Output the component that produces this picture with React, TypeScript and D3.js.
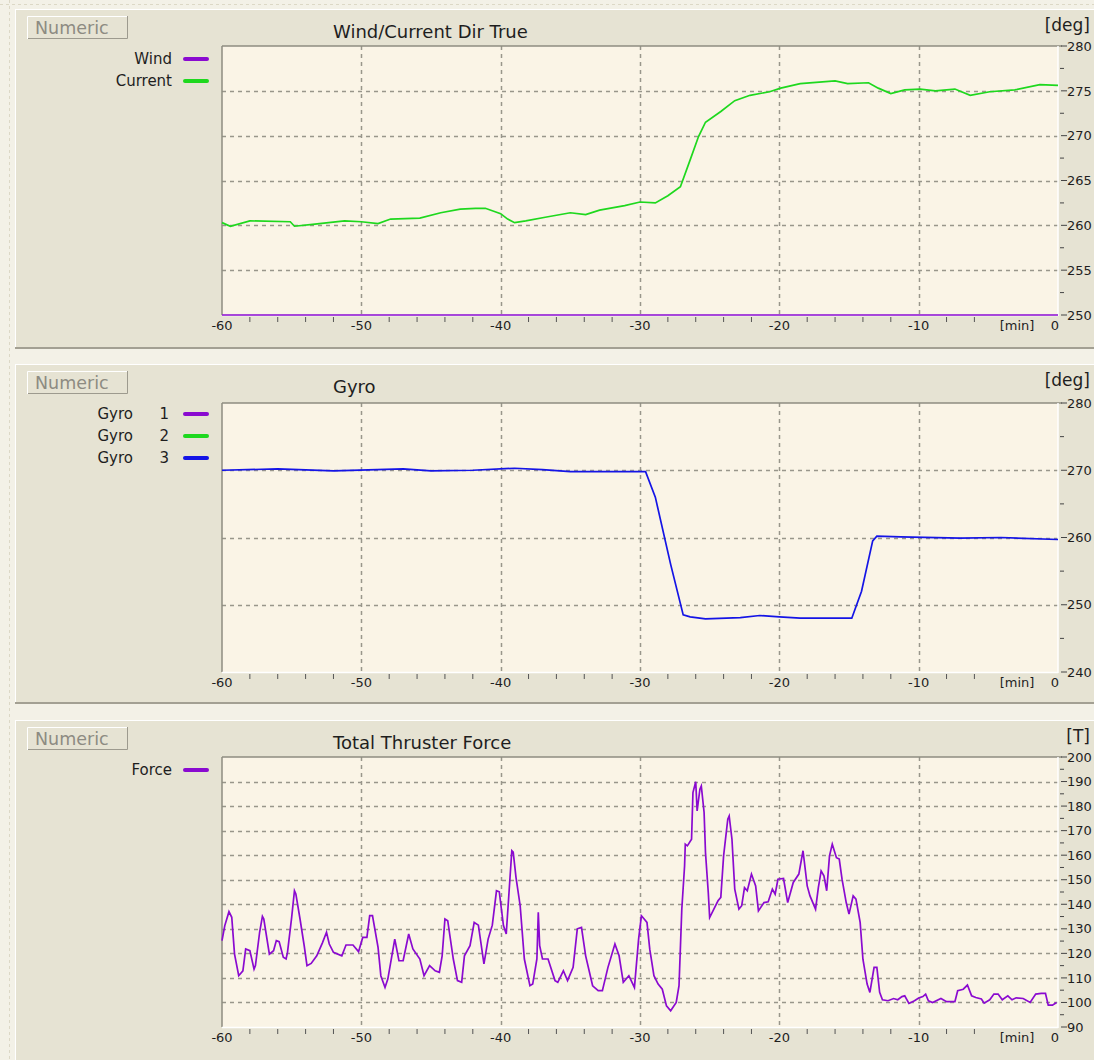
import React from "react";
import * as d3 from "d3";

// ---- data (minutes, value) ----
const windData: [number, number][] = [
  [-60, 250],
  [0, 250],
];

const currentData: [number, number][] = [
  [-60, 260.3], [-59.4, 259.9], [-58.0, 260.5], [-55.1, 260.4], [-54.8, 259.9],
  [-53.5, 260.1], [-51.2, 260.5], [-50.0, 260.4], [-48.8, 260.2], [-47.9, 260.7],
  [-45.8, 260.8], [-44.3, 261.4], [-42.9, 261.8], [-41.8, 261.9], [-41.1, 261.9],
  [-40.0, 261.3], [-39.5, 260.7], [-39.0, 260.3], [-38.2, 260.5], [-36.8, 260.9],
  [-35.0, 261.4], [-33.9, 261.2], [-32.9, 261.7], [-31.1, 262.2], [-30.0, 262.6],
  [-28.9, 262.5], [-28.0, 263.3], [-27.1, 264.3], [-26.4, 267.3], [-25.8, 269.9],
  [-25.3, 271.5], [-24.2, 272.7], [-23.2, 273.9], [-22.1, 274.5], [-20.7, 274.9],
  [-19.9, 275.3], [-18.5, 275.8], [-16.0, 276.1], [-15.1, 275.8], [-13.6, 275.9],
  [-12.9, 275.3], [-12.0, 274.7], [-11.0, 275.1], [-9.9, 275.2], [-8.8, 275.0],
  [-7.4, 275.2], [-6.3, 274.5], [-4.9, 274.9], [-3.1, 275.1], [-1.3, 275.7],
  [0, 275.6],
];

const gyro3Data: [number, number][] = [
  [-60, 270.0], [-56, 270.2], [-52, 269.9], [-47, 270.2], [-45, 269.9],
  [-42, 270.0], [-39, 270.3], [-37, 270.1], [-35, 269.8], [-29.6, 269.8],
  [-28.9, 266], [-27.8, 256], [-26.9, 248.5], [-26.4, 248.2], [-25.3, 247.9],
  [-22.8, 248.1], [-21.4, 248.4], [-20.0, 248.2], [-18.5, 248.0], [-14.8, 248.0],
  [-14.1, 252], [-13.3, 259.5], [-13.0, 260.2], [-11.3, 260.1], [-7.0, 259.9],
  [-4.1, 260.0], [0, 259.7],
];

const forceData: [number, number][] = [
  [-60, 125.2], [-59.8, 131.3], [-59.5, 137], [-59.3, 134.7], [-59.1, 119.7],
  [-58.8, 110.9], [-58.5, 112.9], [-58.3, 121.8], [-58.0, 121.1], [-57.7, 113.6],
  [-57.6, 115], [-57.3, 128.6], [-57.1, 135.1], [-57.0, 134], [-56.6, 119.7],
  [-56.3, 121.1], [-56.1, 125.2], [-55.9, 124.8], [-55.6, 118.4], [-55.4, 117.7],
  [-55.3, 120.4], [-55.0, 134.7], [-54.8, 145.5], [-54.7, 144.2], [-54.4, 134],
  [-54.1, 123.1], [-53.9, 115], [-53.6, 115.9], [-53.2, 119], [-52.8, 124.2],
  [-52.5, 128.6], [-52.3, 123.8], [-52.0, 120.4], [-51.4, 119], [-51.1, 123.4],
  [-50.6, 123.4], [-50.2, 120.7], [-49.9, 126.5], [-49.6, 126.5], [-49.4, 135.4],
  [-49.2, 135.4], [-48.8, 122.4], [-48.6, 110.9], [-48.3, 106.1], [-48.1, 109.5],
  [-47.6, 125.8], [-47.3, 117], [-47.0, 117], [-46.6, 127.9], [-46.3, 121.8],
  [-45.8, 117.7], [-45.5, 110.9], [-45.1, 115], [-44.7, 112.9], [-44.4, 112.3],
  [-44.2, 119], [-44.0, 134], [-43.8, 133.3], [-43.4, 117.7], [-43.1, 108.9],
  [-42.8, 108.2], [-42.6, 119], [-42.2, 123.1], [-41.9, 132.6], [-41.6, 131.5],
  [-41.2, 115.7], [-40.9, 125.8], [-40.6, 131.5], [-40.3, 145.5], [-40.1, 145.1],
  [-39.8, 131.3], [-39.6, 127.9], [-39.4, 144.9], [-39.2, 161.8], [-39.1, 161.2],
  [-38.9, 151], [-38.6, 139.4], [-38.3, 117.7], [-37.9, 106.8], [-37.7, 107.5],
  [-37.4, 117.7], [-37.3, 136.7], [-37.2, 123.1], [-37.0, 117.7], [-36.6, 117.7],
  [-36.1, 108.9], [-35.9, 108.2], [-35.5, 112.9], [-35.2, 108.9], [-34.8, 114.3],
  [-34.5, 130], [-34.2, 130.6], [-33.9, 119], [-33.4, 106.8], [-33.0, 104.8],
  [-32.7, 104.8], [-32.3, 114.3], [-31.8, 123.8], [-31.5, 119], [-31.2, 108.2],
  [-30.8, 110.9], [-30.4, 106.1], [-30.1, 125.8], [-29.9, 135.3], [-29.7, 134],
  [-29.5, 132.6], [-29.3, 121.7], [-29.0, 110.9], [-28.7, 107.5], [-28.4, 105.4],
  [-28.1, 98.6], [-27.8, 96.6], [-27.4, 100], [-27.2, 106.8], [-27.0, 138],
  [-26.8, 155.7], [-26.75, 164.5], [-26.6, 163.8], [-26.3, 166.5], [-26.2, 185.5],
  [-26.0, 189.9], [-25.9, 178], [-25.7, 186.9], [-25.6, 188.2], [-25.4, 177.4],
  [-25.3, 161.1], [-25.1, 144.8], [-25.0, 134.6], [-24.7, 138], [-24.4, 141.4],
  [-24.2, 142.8], [-24.0, 159.7], [-23.7, 174.7], [-23.6, 176], [-23.4, 166.5],
  [-23.2, 146.2], [-22.9, 138], [-22.7, 139.4], [-22.5, 146.8], [-22.3, 145.5],
  [-22.0, 152.3], [-21.7, 147.5], [-21.5, 137.3], [-21.1, 140.7], [-20.8, 141],
  [-20.5, 146.2], [-20.3, 144.1], [-20.1, 150.2], [-19.7, 150.5], [-19.4, 140.7],
  [-19.0, 148.9], [-18.6, 152.3], [-18.3, 161.8], [-18.0, 147.5], [-17.8, 143.4],
  [-17.4, 138], [-17.2, 146.8], [-17.0, 153.6], [-16.8, 151.6], [-16.6, 145.5],
  [-16.4, 159.7], [-16.2, 164.5], [-15.9, 159], [-15.7, 158.4], [-15.5, 150.2],
  [-15.2, 140.7], [-15.0, 136], [-14.7, 143.4], [-14.5, 142.1], [-14.2, 132.6],
  [-14.0, 117.6], [-13.7, 107.5], [-13.5, 104.1], [-13.2, 114.3], [-13.0, 114.3],
  [-12.8, 104.1], [-12.6, 101.1], [-12.2, 100.7], [-11.8, 101.6], [-11.5, 101.1],
  [-11.2, 102.4], [-11.0, 102.7], [-10.7, 99.6], [-10.3, 100.7], [-10.0, 101.8],
  [-9.7, 102.4], [-9.5, 103.4], [-9.3, 100.7], [-9.0, 100], [-8.4, 101.6],
  [-8.0, 100.3], [-7.4, 100.3], [-7.2, 104.8], [-6.8, 105.4], [-6.5, 107.1],
  [-6.2, 102.7], [-5.9, 102], [-5.5, 101.4], [-5.3, 99.7], [-4.9, 101.1],
  [-4.6, 103.4], [-4.3, 103.4], [-4.0, 101.1], [-3.6, 102.7], [-3.3, 101.1],
  [-3.0, 101.9], [-2.5, 101.6], [-2.0, 100], [-1.6, 103.4], [-1.2, 103.7],
  [-0.9, 103.7], [-0.7, 98.9], [-0.4, 98.9], [-0.1, 100],
];

// x axis
const xMajor = [-60, -50, -40, -30, -20, -10];
const xLabels = ["-60", "-50", "-40", "-30", "-20", "-10"];
const xGrid = [-50, -40, -30, -20, -10];
const xMinor = [-58, -56, -54, -52, -48, -46, -44, -42, -38, -36, -34, -32,
  -28, -26, -24, -22, -18, -16, -14, -12, -8, -6];

// y axes
const dirTicks = [250, 255, 260, 265, 270, 275, 280];
const dirMinor = [252.5, 257.5, 262.5, 267.5, 272.5, 277.5];
const dirGrid = [255, 260, 265, 270, 275];

const gyroTicks = [240, 250, 260, 270, 280];
const gyroMinor = [245, 255, 265, 275];
const gyroGrid = [250, 260, 270];

const forceTicks = [90, 100, 110, 120, 130, 140, 150, 160, 170, 180, 190, 200];
const forceMinor = [95, 105, 115, 125, 135, 145, 155, 165, 175, 185, 195];
const forceGrid = [100, 110, 120, 130, 140, 150, 160, 170, 180, 190];

const PURPLE = "#8a0ad0";
const GREEN = "#1ed81e";
const BLUE = "#1414e6";

const PAGE = "#f3f1e7";
const PANEL = "#e6e3d3";
const PLOT = "#faf4e6";
const GRID = "#99968b";
const TEXT = "#1e1e1e";
const FONT = "'DejaVu Sans', Verdana, sans-serif";

const X0 = 222;
const X1 = 1058;

type Legend = { label: string; num?: string; color: string };
type Series = { data: [number, number][]; color: string };

function Panel(props: {
  top: number;
  bottom: number;
  plotTop: number;
  plotBottom: number;
  title: string;
  unit: string;
  legend: Legend[];
  series: Series[];
  yDomain: [number, number];
  yTicks: number[];
  yMinor: number[];
  yGrid: number[];
}) {
  const { top, bottom, plotTop, plotBottom } = props;
  const x = d3.scaleLinear().domain([-60, 0]).range([X0, X1]);
  const y = d3.scaleLinear().domain(props.yDomain).range([plotBottom, plotTop]);
  const line = d3
    .line<[number, number]>()
    .x((d) => x(d[0]))
    .y((d) => y(d[1]));

  const labelY = plotBottom + 15;

  return (
    <g fontFamily={FONT}>
      {/* group frame */}
      <rect x={15} y={top} width={1079} height={bottom - top} fill={PANEL} />
      <line x1={15} x2={1094} y1={top + 0.5} y2={top + 0.5} stroke="#fff" />
      <line x1={15.5} x2={15.5} y1={top} y2={bottom} stroke="#fff" />
      <line x1={15} x2={1094} y1={bottom - 1} y2={bottom - 1} stroke="#a3a093" strokeWidth={2} />

      {/* Numeric button */}
      <rect x={27} y={top + 7} width={101} height={23} fill={PANEL} />
      <polyline points={`${27.5},${top + 30} ${27.5},${top + 7.5} ${128},${top + 7.5}`} fill="none" stroke="#fff" />
      <polyline points={`${28},${top + 29.5} ${127.5},${top + 29.5} ${127.5},${top + 7}`} fill="none" stroke="#9d9a8e" />
      <text x={35} y={top + 25} fontSize={17.5} fill="#8d8b82">Numeric</text>

      <text x={333} y={top + 29} fontSize={18} fill={TEXT}>{props.title}</text>
      <text x={1090} y={top + 22} fontSize={17} fill={TEXT} textAnchor="end">{props.unit}</text>

      {/* legend */}
      {props.legend.map((l, i) => {
        const ly = top + 50 + i * 22;
        return (
          <g key={l.label + i}>
            {l.num ? (
              <>
                <text x={133} y={ly + 5} fontSize={15} fill={TEXT} textAnchor="end">{l.label}</text>
                <text x={169} y={ly + 5} fontSize={15} fill={TEXT} textAnchor="end">{l.num}</text>
              </>
            ) : (
              <text x={172} y={ly + 5} fontSize={15} fill={TEXT} textAnchor="end">{l.label}</text>
            )}
            <line x1={185} x2={207} y1={ly} y2={ly} stroke={l.color} strokeWidth={4} strokeLinecap="round" />
          </g>
        );
      })}

      {/* plot area */}
      <rect x={X0} y={plotTop} width={X1 - X0} height={plotBottom - plotTop} fill={PLOT} />
      {props.yGrid.map((v) => (
        <line key={"hg" + v} x1={X0} x2={X1} y1={Math.round(y(v)) + 0.5} y2={Math.round(y(v)) + 0.5}
          stroke={GRID} strokeWidth={1.5} strokeDasharray="4,4" />
      ))}
      {xGrid.map((m) => (
        <line key={"vg" + m} x1={Math.round(x(m)) + 0.5} x2={Math.round(x(m)) + 0.5} y1={plotTop} y2={plotBottom}
          stroke={GRID} strokeWidth={1.5} strokeDasharray="4,4" />
      ))}
      <line x1={X0} x2={X1 + 4} y1={plotTop} y2={plotTop} stroke="#8e8c80" strokeWidth={1.5} />
      <line x1={X0} x2={X0} y1={plotTop} y2={plotBottom} stroke="#8e8c80" strokeWidth={1.5} />
      <line x1={X1} x2={X1} y1={plotTop} y2={plotBottom + 1} stroke="#fff" strokeWidth={1.5} />
      <line x1={X0} x2={X1} y1={plotBottom + 0.5} y2={plotBottom + 0.5} stroke="#fff" strokeWidth={1.5} />

      {/* right axis */}
      {props.yMinor.map((v) => (
        <line key={"ym" + v} x1={X1 + 2} x2={X1 + 6} y1={y(v)} y2={y(v)} stroke="#444" />
      ))}
      {props.yTicks.map((v) => (
        <g key={"yt" + v}>
          <line x1={X1 + 3} x2={X1 + 9} y1={y(v)} y2={y(v)} stroke="#444" />
          <text x={X1 + 9} y={y(v)} dy="0.36em" fontSize={13} fill={TEXT}>{v}</text>
        </g>
      ))}

      {/* bottom axis */}
      {xMinor.filter((m) => m !== -4 && m !== -2).map((m) => (
        <line key={"xm" + m} x1={x(m)} x2={x(m)} y1={plotBottom + 2} y2={plotBottom + 7} stroke="#555" />
      ))}
      {xMajor.map((m, i) => (
        <text key={"xl" + m} x={x(m)} y={labelY} fontSize={13} fill={TEXT} textAnchor="middle">{xLabels[i]}</text>
      ))}
      <text x={1017} y={labelY} fontSize={13} fill={TEXT} textAnchor="middle">[min]</text>
      <text x={x(0) - 3} y={labelY} fontSize={13} fill={TEXT} textAnchor="middle">0</text>

      {/* series */}
      {props.series.map((s, i) => (
        <path key={"s" + i} d={line(s.data) || ""} fill="none" stroke={s.color} strokeWidth={1.7} />
      ))}
    </g>
  );
}

export default function App() {
  return (
    <svg width={1094} height={1060} style={{ position: "absolute", left: 0, top: 0, display: "block" }}>
      <rect width={1094} height={1060} fill={PAGE} />
      <line x1={0} x2={1094} y1={4.5} y2={4.5} stroke="#dcd8c6" strokeDasharray="3,3" />
      <line x1={9.5} x2={9.5} y1={0} y2={1060} stroke="#dcd8c6" strokeDasharray="3,3" />

      <Panel
        top={9}
        bottom={349}
        plotTop={46}
        plotBottom={315}
        title="Wind/Current Dir True"
        unit="[deg]"
        legend={[
          { label: "Wind", color: PURPLE },
          { label: "Current", color: GREEN },
        ]}
        series={[
          { data: currentData, color: GREEN },
          { data: windData, color: PURPLE },
        ]}
        yDomain={[250, 280]}
        yTicks={dirTicks}
        yMinor={dirMinor}
        yGrid={dirGrid}
      />
      <Panel
        top={364}
        bottom={704}
        plotTop={403}
        plotBottom={672}
        title="Gyro"
        unit="[deg]"
        legend={[
          { label: "Gyro", num: "1", color: PURPLE },
          { label: "Gyro", num: "2", color: GREEN },
          { label: "Gyro", num: "3", color: BLUE },
        ]}
        series={[{ data: gyro3Data, color: BLUE }]}
        yDomain={[240, 280]}
        yTicks={gyroTicks}
        yMinor={gyroMinor}
        yGrid={gyroGrid}
      />
      <Panel
        top={720}
        bottom={1062}
        plotTop={757}
        plotBottom={1027}
        title="Total Thruster Force"
        unit="[T]"
        legend={[{ label: "Force", color: PURPLE }]}
        series={[{ data: forceData, color: PURPLE }]}
        yDomain={[90, 200]}
        yTicks={forceTicks}
        yMinor={forceMinor}
        yGrid={forceGrid}
      />
    </svg>
  );
}
